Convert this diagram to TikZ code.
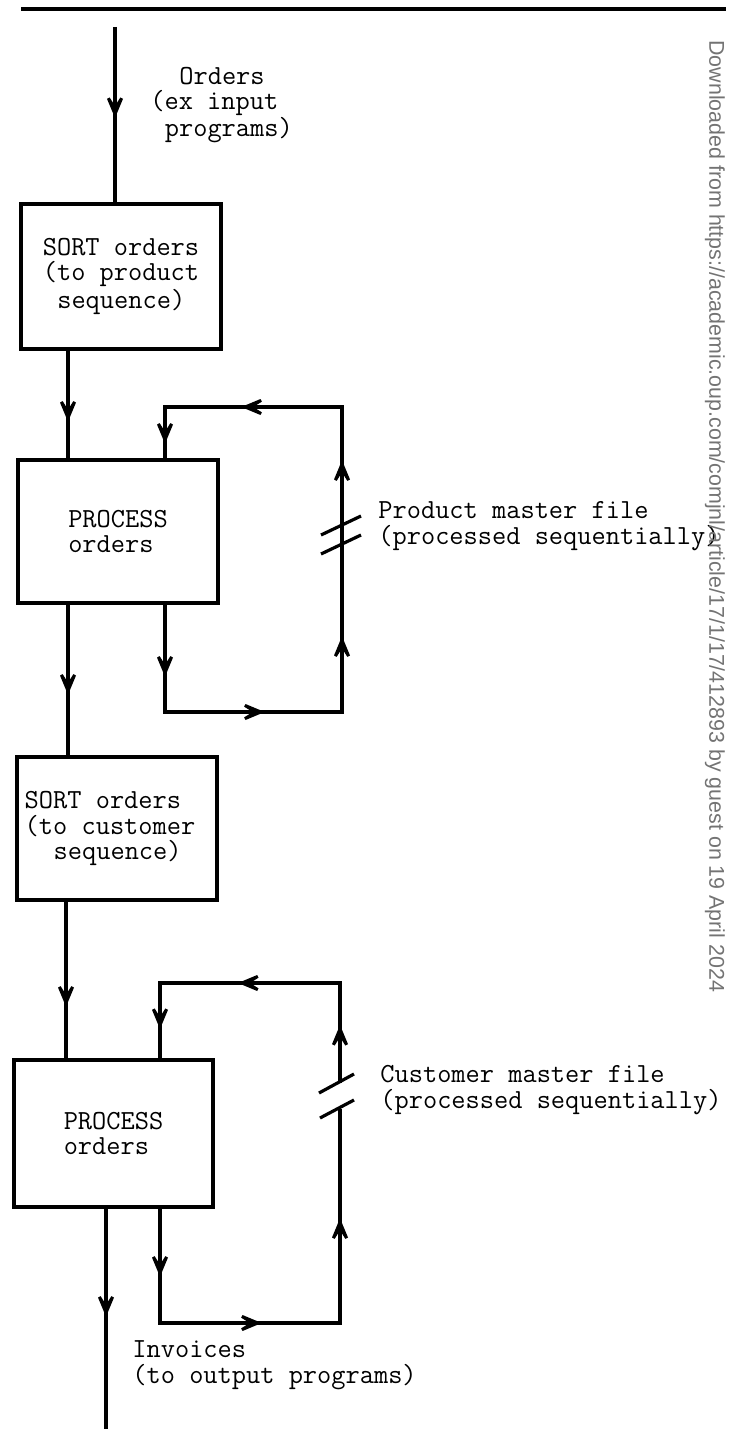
\documentclass[tikz,border=0pt]{standalone}
\usepackage{fontspec}
\newfontfamily\wmfont{Liberation Sans}
\usetikzlibrary{arrows.meta,decorations.markings}
\tikzset{
  flowtip/.tip={Stealth[length=18pt,width=15pt,inset=12pt]},
  flow/.style={line width=1.6pt, line join=miter},
  arr/.style={postaction={decorate,decoration={markings,mark=at position #1 with {\arrow{flowtip}}}}},
  box/.style={draw, line width=1.7pt, inner sep=0pt, align=left, font=\fontsize{13.8}{12.6}\selectfont\ttfamily},
  lbl/.style={inner sep=0pt, anchor=base west, align=left, font=\fontsize{13.8}{12.6}\selectfont\ttfamily},
  slash/.style={line width=1.6pt},
}
\begin{document}
\begin{tikzpicture}[x=0.5pt,y=-0.5pt]
\useasboundingbox (0,0) rectangle (734,1429);
% top rule
\coordinate (r0) at (21,9);
\coordinate (r1) at (726,9);
\draw[line width=2pt] (r0) -- (r1);
% boxes
\node[box, minimum width=100pt, minimum height=72.5pt] (b1) at (121,276.5)
  {SORT orders\\(to product\\\hspace*{0.525em}sequence)};
\node[box, minimum width=100pt, minimum height=71.5pt] (b2) at (118,531.5)
  {PROCESS\\orders};
\node[box, minimum width=100pt, minimum height=71.5pt] (b3) at (117,828.5)
  {SORT orders\\(to customer\hspace*{7pt}\mbox{}\\\hspace*{1.05em}sequence)};
\node[box, minimum width=99.5pt, minimum height=73.5pt] (b4) at (113.5,1133.5)
  {PROCESS\\orders};
% main flow
\coordinate (in0) at (115,27);
\draw[flow, line width=2pt, arr=45.5pt] (in0) -- (in0 |- b1.north);
\coordinate (x1) at (68,0);
\draw[flow, arr=35.5pt] (x1 |- b1.south) -- (x1 |- b2.north);
\draw[flow, arr=45pt] (x1 |- b2.south) -- (x1 |- b3.north);
\coordinate (x2) at (66,0);
\draw[flow, arr=52.5pt] (x2 |- b3.south) -- (x2 |- b4.north);
\coordinate (out0) at (106,1429);
\draw[flow, arr=54pt] (out0 |- b4.south) -- (out0);
% loop 1
\coordinate (l1a) at (165,407);
\coordinate (l1b) at (342,407);
\coordinate (l1c) at (342,712);
\coordinate (l1d) at (165,712);
\draw[flow, arr=36pt, arr=103.5pt, arr=180pt, arr=268pt, arr=345pt, arr=401.5pt]
  (l1d |- b2.south) -- (l1d) -- (l1c) -- (l1b) -- (l1a) -- (l1a |- b2.north);
\coordinate (s1a) at (321,535); \coordinate (s1b) at (361,516);
\coordinate (s1c) at (321,554); \coordinate (s1d) at (361,535);
\draw[slash] (s1a) -- (s1b);
\draw[slash] (s1c) -- (s1d);
% loop 2
\coordinate (l2a) at (160,983);
\coordinate (l2b) at (340,983);
\coordinate (l2c) at (340,1323);
\coordinate (l2d) at (160,1323);
\coordinate (l2g1) at (340,1083);
\coordinate (l2g2) at (340,1109);
\draw[flow, arr=34pt, arr=108pt, arr=199.5pt]
  (l2d |- b4.south) -- (l2d) -- (l2c) -- (l2g2);
\draw[flow, arr=29pt, arr=101pt, arr=163pt]
  (l2g1) -- (l2b) -- (l2a) -- (l2a |- b4.north);
\coordinate (s2a) at (319,1093); \coordinate (s2b) at (354,1074);
\coordinate (s2c) at (320,1118); \coordinate (s2d) at (354,1100);
\draw[slash] (s2a) -- (s2b);
\draw[slash] (s2c) -- (s2d);
% labels (base = last line)
\node[lbl] (tin) at (150,137) {\hspace*{1.05em}Orders\\(ex input\\\hspace*{0.525em}programs)};
\node[lbl] (tpm) at (378,544) {Product master file\\(processed sequentially)};
\node[lbl] (tcm) at (380,1108) {Customer master file\\(processed sequentially)};
\node[lbl] (tinv) at (132,1383) {Invoices\\(to output programs)};
% watermark
\node[rotate=-90, anchor=west, inner sep=0pt, text=black!55, font=\wmfont\fontsize{10.7}{12}\selectfont] (wm) at (715,40)
  {Downloaded from https://academic.oup.com/comjnl/article/17/1/17/412893 by guest on 19 April 2024};
\end{tikzpicture}
\end{document}
